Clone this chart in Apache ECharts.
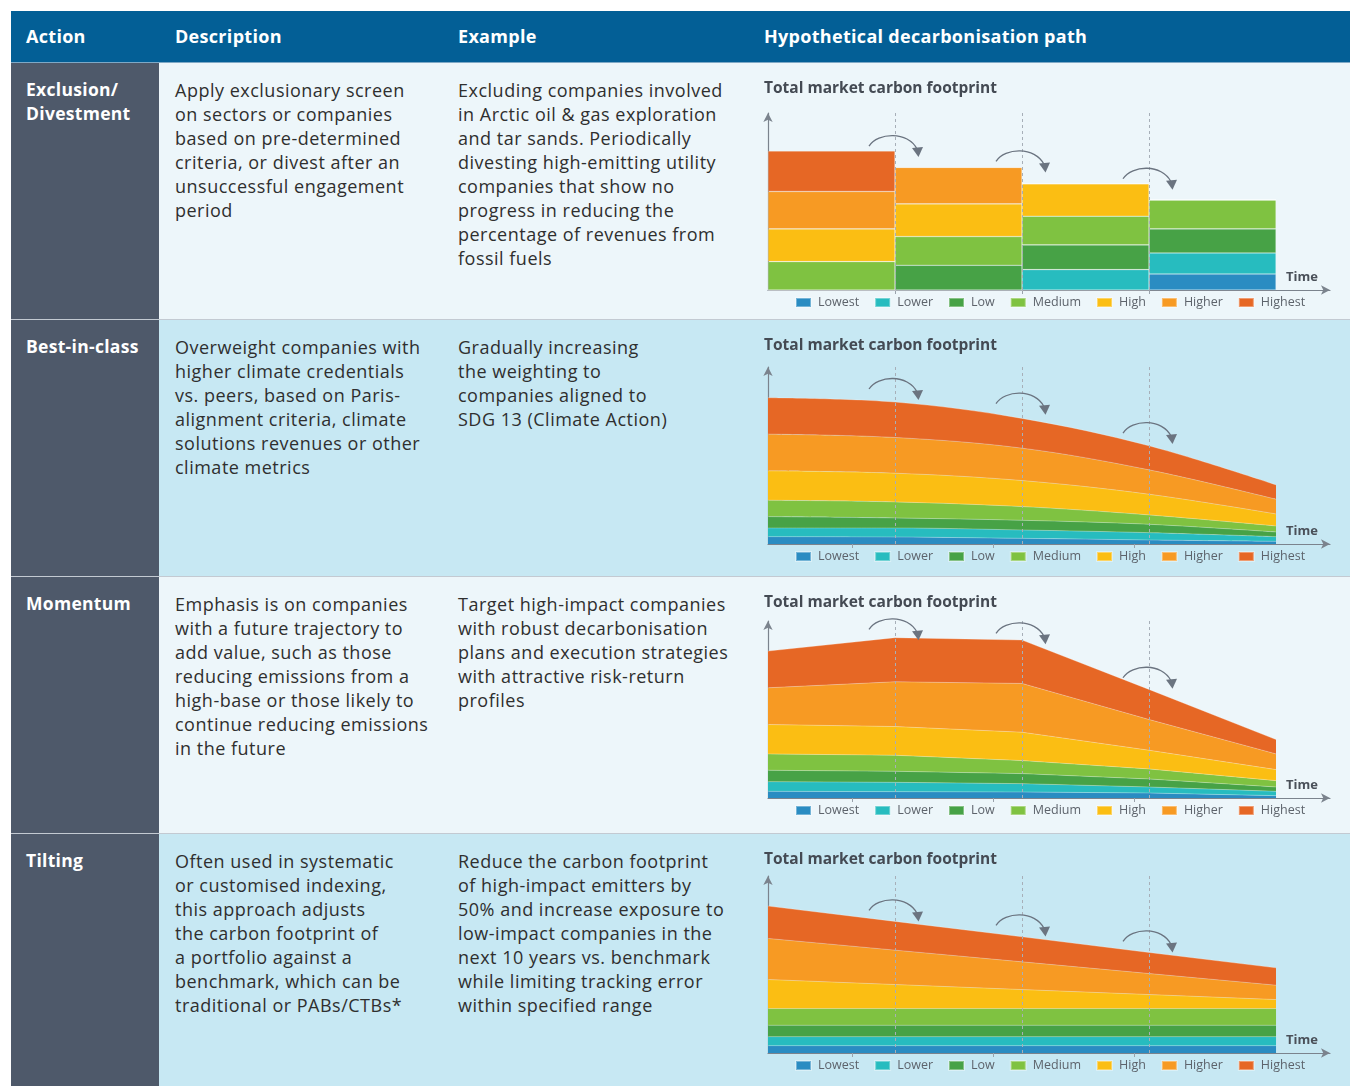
<!DOCTYPE html>
<html>
<head>
<meta charset="utf-8">
<script src="https://cdn.jsdelivr.net/npm/echarts@6/dist/echarts.min.js"></script>
<style>
  html,body{margin:0;padding:0;background:#fff;}
  #page{position:relative;width:1350px;height:1086px;overflow:hidden;font-family:"Open Sans",sans-serif;}
  .abs{position:absolute;}
  .hdr{color:#fff;font-weight:bold;font-size:18px;letter-spacing:0.3px;line-height:51px;top:11px;white-space:pre;}
  .act{color:#fff;font-weight:bold;font-size:17.5px;letter-spacing:0.3px;line-height:24px;white-space:pre;}
  .txt{color:#2f2f2f;font-size:18px;letter-spacing:0.5px;line-height:24px;white-space:pre;}
  #chart{position:absolute;left:0;top:0;width:1350px;height:1086px;}
</style>
</head>
<body>
<div id="page">
  <div id="bg"></div>
  <div id="chart"></div>
</div>
<script>
// ---------------- DATA ----------------
const categories = ['Lowest', 'Lower', 'Low', 'Medium', 'High', 'Higher', 'Highest'];
const periods = [0, 1, 2, 3, 4];          // time points of the decarbonisation path
const barCenters = [0.5, 1.5, 2.5, 3.5];  // the four holding periods (exclusion chart)
const arrowX = [1, 2, 3];                 // rebalancing dates
const ticksExclusion = [1, 2, 3];
const ticksOther = [0.665, 1.776, 2.886];

// Exclusion / Divestment (per category, bottom to top, per period)
const exclusion = [
  [0, 0, 0, 48],
  [0, 0, 61, 63],
  [0, 74, 74, 72],
  [85, 86, 86, 87],
  [98, 98, 97, 0],
  [112, 109, 0, 0],
  [121, 0, 0, 0]
];
// Best-in-class
const bestInClass = [
  [22, 21, 17, 12, 8],
  [26, 27, 25, 22, 14],
  [34, 30, 29, 25, 14],
  [49, 48, 41, 28, 18],
  [88, 86, 78, 62, 36],
  [110, 107, 97, 73, 44],
  [109, 106, 89, 72, 43]
];
// Momentum
const momentum = [
  [20, 19, 18, 15, 7],
  [29, 28, 25, 18, 13],
  [34, 33, 30, 24, 13],
  [49, 48, 39, 30, 19],
  [88, 86, 85, 56, 33],
  [110, 134, 146, 92, 47],
  [110, 132, 130, 90, 43]
];
// Tilting
const tilting = [
  [22, 22, 22, 22, 22],
  [27, 27, 27, 27, 27],
  [34, 34, 34, 34, 34],
  [50, 50, 50, 50, 50],
  [87, 72, 57, 42, 27],
  [123, 103, 83, 63, 43],
  [97, 86, 75, 63, 52]
];
// Curved arrow heights (peak) above each rebalancing date
const exclusionArrows = [461, 415, 363];
const bestArrows = [494, 450, 362];
const momentumArrows = [535, 523, 390];
const tiltingArrows = [457, 412, 364];

// Table texts
const headers = ['Action', 'Description', 'Example', 'Hypothetical decarbonisation path'];
const actions = ['Exclusion/\nDivestment', 'Best-in-class', 'Momentum', 'Tilting'];
const descriptions = [
  'Apply exclusionary screen\non sectors or companies\nbased on pre-determined\ncriteria, or divest after an\nunsuccessful engagement\nperiod',
  'Overweight companies with\nhigher climate credentials\nvs. peers, based on Paris-\nalignment criteria, climate\nsolutions revenues or other\nclimate metrics',
  'Emphasis is on companies\nwith a future trajectory to\nadd value, such as those\nreducing emissions from a\nhigh-base or those likely to\ncontinue reducing emissions\nin the future',
  'Often used in systematic\nor customised indexing,\nthis approach adjusts\nthe carbon footprint of\na portfolio against a\nbenchmark, which can be\ntraditional or PABs/CTBs*'
];
const examples = [
  'Excluding companies involved\nin Arctic oil & gas exploration\nand tar sands. Periodically\ndivesting high-emitting utility\ncompanies that show no\nprogress in reducing the\npercentage of revenues from\nfossil fuels',
  'Gradually increasing\nthe weighting to\ncompanies aligned to\nSDG 13 (Climate Action)',
  'Target high-impact companies\nwith robust decarbonisation\nplans and execution strategies\nwith attractive risk-return\nprofiles',
  'Reduce the carbon footprint\nof high-impact emitters by\n50% and increase exposure to\nlow-impact companies in the\nnext 10 years vs. benchmark\nwhile limiting tracking error\nwithin specified range'
];
const chartTitle = 'Total market carbon footprint';
const axisName = 'Time';

// ---------------- STYLE / LAYOUT ----------------
const colors = ['#2a8cc2', '#27bcbf', '#47a246', '#7fc241', '#fbbe13', '#f79a23', '#e66725'];
const rowTops = [63, 320, 577, 834];
const rowHeights = [256, 256, 256, 252];
const rowBg = ['#edf6fa', '#c7e8f3', '#edf6fa', '#c7e8f3'];
const axisYs = [290, 544, 798, 1053];
const GRID_LEFT = 768, GRID_W = 562, GRID_H = 177, X_MAX = 4.425, Y_MAX = 530;
const FONT = '"Open Sans", sans-serif';

// ---------------- TABLE BACKGROUND ----------------
const bg = document.getElementById('bg');
function addDiv(cls, style, text) {
  const d = document.createElement('div');
  d.className = 'abs ' + (cls || '');
  Object.assign(d.style, style);
  if (text !== undefined) d.textContent = text;
  bg.appendChild(d);
  return d;
}
addDiv('', {left: '11px', top: '11px', width: '1339px', height: '51px', background: '#035f96'});
addDiv('', {left: '11px', top: '62px', width: '1339px', height: '1px', background: '#7fa9c6'});
const headerX = [26, 175, 458, 764];
headers.forEach((h, i) => addDiv('hdr', {left: headerX[i] + 'px'}, h));
rowTops.forEach((t, i) => {
  addDiv('', {left: '11px', top: t + 'px', width: '148px', height: rowHeights[i] + 'px', background: '#4e596a'});
  addDiv('', {left: '159px', top: t + 'px', width: '1191px', height: rowHeights[i] + 'px', background: rowBg[i]});
  if (i > 0) addDiv('', {left: '11px', top: (t - 1) + 'px', width: '1339px', height: '1px', background: '#c3cad2'});
  addDiv('act', {left: '26px', top: (t + 14) + 'px'}, actions[i]);
  addDiv('txt', {left: '175px', top: (t + 15) + 'px'}, descriptions[i]);
  addDiv('txt', {left: '458px', top: (t + 15) + 'px'}, examples[i]);
});

// ---------------- CHARTS ----------------
const chart = echarts.init(document.getElementById('chart'), null, {renderer: 'canvas'});
const areaData = [null, bestInClass, momentum, tilting];
const arrowData = [exclusionArrows, bestArrows, momentumArrows, tiltingArrows];
const smoothness = [0, 0.35, 0, 0];

const grids = [], xAxes = [], yAxes = [], titles = [], legends = [], series = [];
for (let i = 0; i < 4; i++) {
  grids.push({left: GRID_LEFT, top: axisYs[i] - GRID_H, width: GRID_W, height: GRID_H});
  xAxes.push({
    type: 'value', gridIndex: i, min: 0, max: X_MAX,
    name: axisName, nameLocation: 'end', nameGap: -12,
    nameTextStyle: {align: 'right', verticalAlign: 'bottom', padding: [0, 0, 6, 0],
      fontWeight: 'bold', fontSize: 13, color: '#4a5059', fontFamily: FONT},
    axisLine: {show: true, symbol: ['none', 'arrow'], symbolSize: [7, 9],
      lineStyle: {color: '#7b838d', width: 1.2}},
    axisTick: {show: true, customValues: i === 0 ? ticksExclusion : ticksOther, length: 4,
      lineStyle: {color: '#9aa2ab'}},
    axisLabel: {show: false}, splitLine: {show: false}
  });
  yAxes.push({
    type: 'value', gridIndex: i, min: 0, max: Y_MAX,
    axisLine: {show: true, symbol: ['none', 'arrow'], symbolSize: [7, 9],
      lineStyle: {color: '#7b838d', width: 1.2}},
    axisTick: {show: false}, axisLabel: {show: false}, splitLine: {show: false}
  });
  titles.push({
    text: chartTitle, left: 764, top: rowTops[i] + 18, padding: 0,
    textStyle: {fontSize: 15.5, fontWeight: 'bold', color: '#444a53', fontFamily: FONT}
  });
  legends.push({
    data: categories, left: 795, top: axisYs[i] + 6, padding: 0, icon: 'rect',
    itemWidth: 15, itemHeight: 9, itemGap: 15, selectedMode: false,
    textStyle: {fontSize: 12.5, color: '#5d636b', fontFamily: FONT, padding: [0, 0, 0, 2]}
  });

  // data rows are [value, time]; encode maps time to x so stacking applies to the value
  categories.forEach((cat, k) => {
    if (i === 0) {
      series.push({
        name: cat, type: 'bar', xAxisIndex: 0, yAxisIndex: 0, stack: 'excl',
        encode: {x: 1, y: 0},
        barWidth: 127, silent: true,
        itemStyle: {color: colors[k], borderColor: 'rgba(255,255,255,0.35)', borderWidth: 0.6},
        data: barCenters.map((x, j) => [exclusion[k][j], x])
      });
    } else {
      series.push({
        name: cat, type: 'line', xAxisIndex: i, yAxisIndex: i, stack: 'area' + i,
        encode: {x: 1, y: 0},
        symbol: 'none', smooth: smoothness[i], silent: true,
        itemStyle: {color: colors[k]},
        lineStyle: {width: 0.8, color: 'rgba(255,255,255,0.35)'},
        areaStyle: {color: colors[k], opacity: 1},
        data: periods.map((x, j) => [areaData[i][k][j], x])
      });
    }
  });

  series.push({
    name: 'arrows' + i, type: 'custom', xAxisIndex: i, yAxisIndex: i, z: 10, silent: true,
    data: arrowX.map((x, j) => [x, arrowData[i][j]]),
    renderItem: function (params, api) {
      const p = api.coord([api.value(0), api.value(1)]);
      const cx = p[0], cy = p[1];
      const col = '#6b7480';
      return {
        type: 'group', children: [
          {type: 'bezierCurve', shape: {x1: cx - 26, y1: cy + 10, cpx1: cx - 17, cpy1: cy - 4,
            cpx2: cx + 13, cpy2: cy - 5, x2: cx + 22, y2: cy + 13},
            style: {fill: null, stroke: col, lineWidth: 1.3}},
          {type: 'polygon', shape: {points: [[cx + 17, cy + 12], [cx + 28, cy + 11], [cx + 23.5, cy + 21]]},
            style: {fill: col}}
        ]
      };
    },
    markLine: {
      silent: true, symbol: 'none', label: {show: false}, animation: false,
      lineStyle: {color: '#a7afb8', type: [3, 3], width: 1},
      data: arrowX.map(x => ({xAxis: x}))
    }
  });
}

chart.setOption({
  animation: false,
  backgroundColor: 'transparent',
  textStyle: {fontFamily: FONT},
  title: titles, grid: grids, xAxis: xAxes, yAxis: yAxes, legend: legends, series: series
});
</script>
</body>
</html>
